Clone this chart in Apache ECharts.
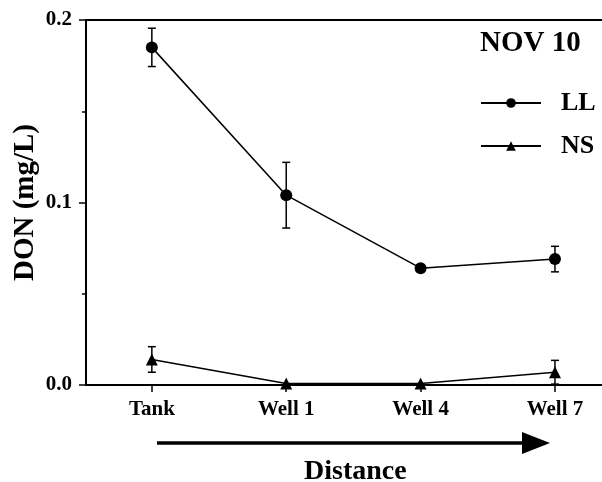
<!DOCTYPE html>
<html>
<head>
<meta charset="utf-8">
<script src="https://cdn.jsdelivr.net/npm/echarts@6/dist/echarts.min.js"></script>
<style>
  html, body { margin: 0; padding: 0; background: #fff; }
  #chart { width: 602px; height: 482px; }
</style>
</head>
<body>
<div id="chart"></div>
<script>
// Sampling sites along the flow path
const sites = ['Tank', 'Well 1', 'Well 4', 'Well 7'];
const sitePos = [0, 1, 2, 3];

// Dissolved organic nitrogen (mg/L), mean and error
const llMean = [0.185, 0.104, 0.064, 0.069];
const llErr  = [0.0105, 0.018, 0.0015, 0.007];
const nsMean = [0.014, 0.0008, 0.0008, 0.007];
const nsErr  = [0.007, 0, 0, 0.0065];

const yTicks = [0, 0.1, 0.2];

const FONT = '"Liberation Serif", "Times New Roman", serif';

const pairs = arr => arr.map((v, i) => [sitePos[i], v]);

function errorSeries(mean, err) {
  const data = mean.map((m, i) => [sitePos[i], m - err[i], m + err[i]]);
  return {
    type: 'custom',
    silent: true,
    z: 1,
    data: data,
    renderItem: function (params, api) {
      if (api.value(2) - api.value(1) <= 0) return null;
      const lo = api.coord([api.value(0), api.value(1)]);
      const hi = api.coord([api.value(0), api.value(2)]);
      const cap = 4;
      const style = { stroke: '#000', lineWidth: 1.5 };
      return {
        type: 'group',
        children: [
          { type: 'line', shape: { x1: lo[0], y1: lo[1], x2: hi[0], y2: hi[1] }, style: style },
          { type: 'line', shape: { x1: hi[0] - cap, y1: hi[1], x2: hi[0] + cap, y2: hi[1] }, style: style },
          { type: 'line', shape: { x1: lo[0] - cap, y1: lo[1], x2: lo[0] + cap, y2: lo[1] }, style: style }
        ]
      };
    }
  };
}

const chart = echarts.init(document.getElementById('chart'), null, { renderer: 'canvas' });

chart.setOption({
  backgroundColor: '#fff',
  animation: false,
  title: {
    text: 'NOV 10',
    left: 480,
    top: 29,
    padding: 0,
    textStyle: { fontFamily: FONT, fontWeight: 'bold', fontSize: 29, color: '#000' }
  },
  legend: {
    left: 480,
    top: 90,
    padding: 0,
    orient: 'vertical',
    itemWidth: 60,
    itemHeight: 12,
    itemGap: 17,
    data: ['LL', 'NS'],
    textStyle: { fontFamily: FONT, fontWeight: 'bold', fontSize: 26, color: '#000', padding: [0, 0, 0, 15] }
  },
  grid: {
    left: 86,
    top: 20,
    right: 0,
    bottom: 97,
    show: false
  },
  xAxis: [
    {
      type: 'value',
      min: -0.49,
      max: 3.35,
      axisLine: { onZero: false, lineStyle: { color: '#000', width: 2 } },
      axisTick: { show: true, customValues: sitePos, length: 7, lineStyle: { color: '#000', width: 1.5 } },
      axisLabel: {
        customValues: sitePos,
        formatter: v => sites[Math.round(v)],
        fontFamily: FONT, fontWeight: 'bold', fontSize: 21, color: '#000', margin: 14
      },
      splitLine: { show: false }
    },
    {
      type: 'value',
      position: 'top',
      min: -0.49,
      max: 3.35,
      axisLine: { show: true, onZero: false, lineStyle: { color: '#000', width: 2 } },
      axisTick: { show: false },
      axisLabel: { show: false },
      splitLine: { show: false }
    }
  ],
  yAxis: {
    type: 'value',
    min: 0,
    max: 0.2,
    interval: 0.1,
    name: 'DON (mg/L)',
    nameLocation: 'middle',
    nameGap: 46,
    nameMoveOverlap: false,
    nameTextStyle: { fontFamily: FONT, fontWeight: 'bold', fontSize: 29, color: '#000' },
    axisLine: { show: true, onZero: false, lineStyle: { color: '#000', width: 2 } },
    axisTick: { show: true, length: 7, lineStyle: { color: '#000', width: 1.5 } },
    minorTick: { show: true, splitNumber: 2, length: 4, lineStyle: { color: '#000', width: 1.5 } },
    axisLabel: {
      fontFamily: FONT, fontWeight: 'bold', fontSize: 21, color: '#000', margin: 14,
      formatter: v => yTicks.some(t => Math.abs(t - v) < 1e-9) ? v.toFixed(1) : ''
    },
    splitLine: { show: false }
  },
  series: [
    errorSeries(llMean, llErr),
    errorSeries(nsMean, nsErr),
    {
      name: 'LL',
      type: 'line',
      data: pairs(llMean),
      symbol: 'circle',
      symbolSize: 12,
      z: 3,
      lineStyle: { color: '#000', width: 1.5 },
      itemStyle: { color: '#000' }
    },
    {
      name: 'NS',
      type: 'line',
      data: pairs(nsMean),
      symbol: 'triangle',
      symbolSize: 12,
      z: 3,
      lineStyle: { color: '#000', width: 1.5 },
      itemStyle: { color: '#000' }
    }
  ],
  graphic: [
    {
      type: 'line',
      shape: { x1: 157, y1: 443, x2: 525, y2: 443 },
      style: { stroke: '#000', lineWidth: 3.5 }
    },
    {
      type: 'polygon',
      shape: { points: [[522, 432], [550, 443], [522, 454]] },
      style: { fill: '#000' }
    },
    {
      type: 'text',
      left: 304,
      top: 458,
      style: { text: 'Distance', fontFamily: FONT, fontWeight: 'bold', fontSize: 28, fill: '#000' }
    }
  ]
});
</script>
</body>
</html>
